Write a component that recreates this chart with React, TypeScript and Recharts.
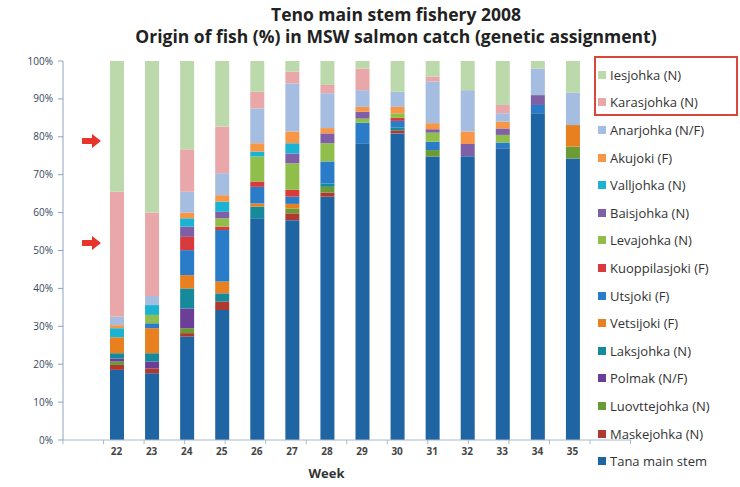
import { BarChart, Bar, XAxis, YAxis, ReferenceLine } from 'recharts';

const weeks = ['22', '23', '24', '25', '26', '27', '28', '29', '30', '31', '32', '33', '34', '35'];
const yTicks = [0, 10, 20, 30, 40, 50, 60, 70, 80, 90, 100];

// values in % of catch, bottom of the stack first
const tana = [18.5, 17.6, 27.3, 34.3, 58.5, 58.0, 64.2, 78.3, 80.9, 74.8, 74.9, 77.0, 86.2, 74.3];
const maskejohka = [1.3, 1.3, 0.9, 2.2, 0, 1.8, 1.1, 0, 0.8, 0, 0, 0, 0, 0];
const luovttejohka = [0.9, 0, 1.3, 0, 0, 1.3, 1.5, 0, 0, 1.7, 0, 0, 0, 3.1];
const polmak = [0.8, 1.8, 5.2, 0, 0, 0, 0, 0, 0, 0, 0, 0, 0, 0];
const laksjohka = [1.4, 2.2, 5.3, 2.2, 3.1, 0, 0.9, 0, 0.8, 0, 0, 0, 0, 0];
const vetsijoki = [4.2, 6.6, 3.5, 3.1, 0.8, 1.2, 0, 0, 0, 0, 0, 0, 0, 5.7];
const utsjoki = [0, 1.3, 6.6, 13.6, 4.4, 1.9, 5.8, 5.4, 1.7, 2.2, 0, 1.5, 2.2, 0];
const kuoppilasjoki = [0, 0, 3.5, 0.9, 1.4, 1.8, 0, 0, 0.8, 0, 0, 0, 0, 0];
const levajohka = [0, 2.2, 0, 2.2, 6.6, 7.0, 4.8, 1.1, 1.2, 2.4, 0, 2.0, 0, 0];
const baisjohka = [0, 0, 2.7, 1.7, 0, 2.6, 2.6, 1.8, 0, 0.9, 3.2, 1.7, 2.6, 0];
const valljohka = [2.4, 2.6, 2.2, 2.7, 1.3, 2.7, 0, 0, 0, 0, 0, 0, 0, 0];
const akujoki = [0.8, 0, 1.5, 1.7, 2.2, 3.1, 1.4, 1.3, 1.7, 1.6, 3.3, 1.8, 0, 0];
const anarjohka = [2.2, 2.4, 5.5, 5.8, 9.2, 12.7, 9.2, 4.4, 4.0, 11.0, 10.9, 2.2, 7.0, 8.6];
const karasjohka = [33.0, 22.0, 11.2, 12.3, 4.4, 3.1, 2.2, 5.7, 0, 1.3, 0, 2.2, 0, 0];
const iesjohka = [34.5, 40.0, 23.3, 17.3, 8.1, 2.8, 6.3, 2.0, 8.1, 4.1, 7.7, 11.6, 2.0, 8.3];

const series = [
  { key: 'tana', name: 'Tana main stem', color: '#1f65a3', values: tana },
  { key: 'maskejohka', name: 'Maskejohka (N)', color: '#b0392f', values: maskejohka },
  { key: 'luovttejohka', name: 'Luovttejohka (N)', color: '#6a9b35', values: luovttejohka },
  { key: 'polmak', name: 'Polmak (N/F)', color: '#6b3f98', values: polmak },
  { key: 'laksjohka', name: 'Laksjohka (N)', color: '#16899b', values: laksjohka },
  { key: 'vetsijoki', name: 'Vetsijoki (F)', color: '#e8801f', values: vetsijoki },
  { key: 'utsjoki', name: 'Utsjoki (F)', color: '#2b7cc8', values: utsjoki },
  { key: 'kuoppilasjoki', name: 'Kuoppilasjoki (F)', color: '#d93a3c', values: kuoppilasjoki },
  { key: 'levajohka', name: 'Levajohka (N)', color: '#8fbf4a', values: levajohka },
  { key: 'baisjohka', name: 'Baisjohka (N)', color: '#7f5fa6', values: baisjohka },
  { key: 'valljohka', name: 'Valljohka (N)', color: '#1cb2d2', values: valljohka },
  { key: 'akujoki', name: 'Akujoki (F)', color: '#f79646', values: akujoki },
  { key: 'anarjohka', name: 'Anarjohka (N/F)', color: '#a4bde0', values: anarjohka },
  { key: 'karasjohka', name: 'Karasjohka (N)', color: '#e9a7aa', values: karasjohka },
  { key: 'iesjohka', name: 'Iesjohka (N)', color: '#bcd9ab', values: iesjohka },
];

const data = weeks.map((week, i) => {
  const row: Record<string, string | number> = { week };
  series.forEach((s) => {
    row[s.key] = s.values[i];
  });
  return row;
});

// category boundaries on a hidden numeric axis (0 = left edge of week 22)
const boundaries = weeks.map((_, i) => i).concat(weeks.length);

const font = '"Open Sans", "DejaVu Sans", sans-serif';
const axisColor = '#a9b8c9';

function SeriesLegend() {
  const items = [...series].reverse();
  return (
    <div style={{ position: 'absolute', left: 598, top: 61, width: 142, fontFamily: font }}>
      {items.map((s) => (
        <div
          key={s.key}
          style={{ display: 'flex', alignItems: 'center', height: 27.6, fontSize: 13, color: '#333' }}
        >
          <span style={{ width: 8, height: 8, background: s.color, marginRight: 4, display: 'inline-block' }} />
          {s.name}
        </div>
      ))}
    </div>
  );
}

function Arrow({ top }: { top: number }) {
  return (
    <svg width={20} height={14} style={{ position: 'absolute', left: 82, top }}>
      <polygon points="0,4 10,4 10,0 19,7 10,14 10,10 0,10" fill="#e8352a" />
    </svg>
  );
}

export default function App() {
  return (
    <div style={{ position: 'absolute', left: 0, top: 0, width: 740, height: 487, background: '#fff' }}>
      <div
        style={{
          position: 'absolute',
          left: 0,
          top: 3,
          width: 792,
          textAlign: 'center',
          fontFamily: font,
          fontWeight: 700,
          fontSize: 17.5,
          lineHeight: '22px',
          color: '#222',
        }}
      >
        Teno main stem fishery 2008
        <br />
        Origin of fish (%) in MSW salmon catch (genetic assignment)
      </div>
      <BarChart
        width={740}
        height={487}
        data={data}
        margin={{ top: 61, right: 150, bottom: 0, left: 8 }}
        barSize={14}
        style={{ position: 'absolute', left: 0, top: 0 }}
      >
        <XAxis
          dataKey="week"
          height={47}
          padding={{ left: 36, right: 0 }}
          axisLine={false}
          tickLine={false}
          tick={{ fontSize: 10, fontWeight: 700, fill: '#444', fontFamily: font }}
          label={{ value: 'Week', position: 'insideBottom', offset: 9, fontSize: 13, fontWeight: 700, fill: '#333', fontFamily: font }}
        />
        <XAxis
          xAxisId="edges"
          type="number"
          hide
          domain={[-36 / 35, weeks.length]}
          allowDataOverflow
        />
        <YAxis
          width={55}
          domain={[0, 100]}
          ticks={yTicks}
          allowDataOverflow
          tickFormatter={(v: number) => `${v}%`}
          axisLine={{ stroke: '#8ea3bc' }}
          tickLine={{ stroke: '#8ea3bc' }}
          tickSize={5}
          tickMargin={5}
          tick={{ fontSize: 10, fill: '#33475e', fontFamily: font }}
        />
        {series.map((s) => (
          <Bar key={s.key} dataKey={s.key} name={s.name} stackId="a" fill={s.color} isAnimationActive={false} />
        ))}
        <ReferenceLine
          xAxisId="edges"
          segment={[{ x: 0, y: 0 }, { x: weeks.length, y: 0 }]}
          stroke={axisColor}
          ifOverflow="visible"
        />
        {boundaries.map((b) => (
          <ReferenceLine
            key={b}
            xAxisId="edges"
            segment={[{ x: b, y: 0 }, { x: b, y: -1.1 }]}
            stroke={axisColor}
            ifOverflow="visible"
          />
        ))}
      </BarChart>
      <SeriesLegend />
      <div
        style={{
          position: 'absolute',
          left: 594,
          top: 56,
          width: 140,
          height: 56,
          border: '2px solid #d9473a',
        }}
      />
      <Arrow top={134} />
      <Arrow top={236} />
    </div>
  );
}
